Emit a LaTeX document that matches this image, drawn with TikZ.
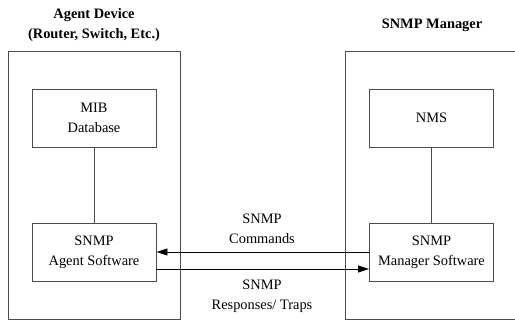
\documentclass[tikz,border=0pt]{standalone}
\usepackage{fontspec}
\setmainfont{Liberation Serif}
\usetikzlibrary{arrows.meta}
\begin{document}
\begin{tikzpicture}[x=1pt,y=-1pt,
  every node/.style={font=\fontsize{14.4}{20}\selectfont, inner sep=0pt},
  outerbox/.style={draw=black!70, line width=0.9pt, minimum width=172pt, minimum height=268pt},
  innerbox/.style={draw=black!70, line width=0.9pt, minimum width=124pt, minimum height=58pt, align=center},
  title/.style={font=\fontsize{14.4}{20}\selectfont\bfseries, align=center},
  lbl/.style={align=center},
  link/.style={draw=black!70, line width=0.8pt},
  msg/.style={draw=black, line width=0.8pt, -{Triangle[length=11pt,width=7pt]}}
]
\useasboundingbox (0,0) rectangle (515,320);
\clip (0,0) rectangle (515,320);
% outer boxes
\node[outerbox] (agentdev) at (94,185) {};
\node[outerbox, minimum width=180pt] (mgr) at (435,185) {};
% titles
\node[title] (t1) at (94,25) {Agent Device\\(Router, Switch, Etc.)};
\node[title] (t2) at (432,25) {SNMP Manager};
% inner boxes
\node[innerbox] (mib) at (94,118) {MIB\\Database};
\node[innerbox] (asw) at (94,252) {SNMP\\Agent Software};
\node[innerbox] (nms) at (431.5,118) {NMS};
\node[innerbox] (msw) at (431.5,252) {SNMP\\Manager Software};
% vertical links
\draw[link] (mib.south) -- (asw.north);
\draw[link] (nms.south) -- (msw.north);
% messages
\draw[msg] (msw.west) -- (asw.east);
\draw[msg] ([yshift=-17pt]asw.east) -- ([yshift=-17pt]msw.west);
% labels
\node[lbl] (l1) at (262,229) {SNMP\\Commands};
\node[lbl] (l2) at (262,296) {SNMP\\Responses/ Traps};
\end{tikzpicture}
\end{document}
